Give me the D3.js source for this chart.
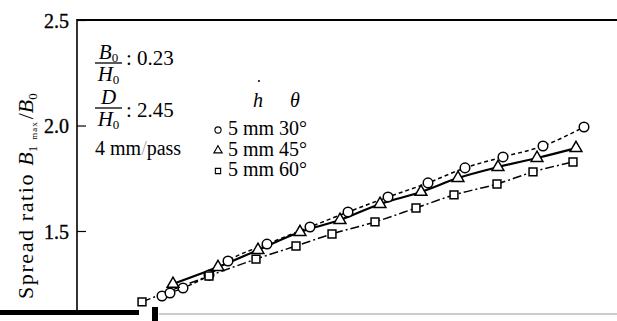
<!DOCTYPE html>
<html>
<head>
<meta charset="utf-8">
<script src="https://cdn.jsdelivr.net/npm/d3@7"></script>
<style>
  body { margin: 0; background: #fff; }
  svg { display: block; font-family: "Liberation Serif", "DejaVu Serif", serif; }
</style>
</head>
<body>
<svg id="chart" width="617" height="321"></svg>
<script>
// reduction (mm) and spread ratio for each series
const circleX = [8.5, 9.3, 10.6, 13.2, 15.1, 19.0, 23.3, 27.1, 31.1, 35.1, 38.8, 42.6, 46.6, 50.7];
const circleY = [1.192, 1.206, 1.230, 1.291, 1.358, 1.438, 1.519, 1.590, 1.661, 1.728, 1.799, 1.851, 1.903, 1.993];

const triangleX = [9.6, 14.1, 18.1, 22.3, 26.3, 30.3, 34.4, 38.1, 42.1, 46.0, 49.9];
const triangleY = [1.249, 1.329, 1.410, 1.495, 1.552, 1.628, 1.685, 1.751, 1.803, 1.846, 1.893];

const squareX = [6.5, 13.2, 17.9, 21.9, 25.5, 29.8, 33.9, 37.7, 42.0, 45.6, 49.6];
const squareY = [1.164, 1.287, 1.367, 1.429, 1.486, 1.543, 1.609, 1.671, 1.723, 1.780, 1.827];

const yTicks = [1.5, 2.0, 2.5];
const legendRows = ['5 mm 30°', '5 mm 45°', '5 mm 60°'];

let svg = d3.select('#chart');

const plotLeft = 77, plotTop = 20, plotBottom = 313, plotRight = 617;
const serif = '"Liberation Serif", "DejaVu Serif", serif';

let x = d3.scaleLinear().domain([0, 54]).range([plotLeft, plotRight]);
let y = d3.scaleLinear().domain([1.5, 2.5]).range([231, plotTop]);

svg.append('defs').append('clipPath')
  .attr('id', 'plot')
  .append('rect')
  .attr('x', plotLeft).attr('y', plotTop)
  .attr('width', plotRight - plotLeft).attr('height', plotBottom - plotTop);

// frame: top line and left axis
svg.append('line')
  .attr('x1', plotLeft).attr('x2', plotRight)
  .attr('y1', plotTop).attr('y2', plotTop)
  .attr('stroke', '#000').attr('stroke-width', 2);

let yAxis = d3.axisRight(y)
  .tickValues(yTicks)
  .tickSize(9)
  .tickFormat(d3.format('.1f'));

let ya = svg.append('g')
  .attr('transform', `translate(${plotLeft},0)`)
  .call(yAxis)
  .attr('font-family', serif)
  .attr('font-size', 20);
ya.select('.domain').remove();
ya.selectAll('.tick line').attr('stroke', '#000').attr('stroke-width', 1.2);
ya.selectAll('.tick text')
  .attr('x', -8)
  .attr('dy', '0.35em')
  .attr('text-anchor', 'end')
  .attr('fill', '#000')
  .attr('stroke', '#000')
  .attr('stroke-width', 0.35);

svg.append('line')
  .attr('x1', plotLeft).attr('x2', plotLeft)
  .attr('y1', plotTop - 1).attr('y2', plotBottom)
  .attr('stroke', '#000').attr('stroke-width', 1.6);

// bottom edge of the scan
svg.append('rect')
  .attr('x', 0).attr('y', 310)
  .attr('width', 139).attr('height', 5)
  .attr('fill', '#000');
svg.append('rect')
  .attr('x', 152).attr('y', 307)
  .attr('width', 6).attr('height', 14)
  .attr('fill', '#000');
svg.append('line')
  .attr('x1', 159).attr('x2', plotRight)
  .attr('y1', 314).attr('y2', 314)
  .attr('stroke', '#bbb').attr('stroke-width', 1.5);

// y label
let ylab = svg.append('text')
  .attr('transform', 'translate(33,299) rotate(-90)')
  .style('font-size', '22px')
  .attr('fill', '#000');
ylab.append('tspan').style('letter-spacing', '1.6px').text('Spread ratio ');
ylab.append('tspan').style('font-style', 'italic').text('B');
ylab.append('tspan').attr('dy', 4).style('font-size', '13px').text('1');
ylab.append('tspan').attr('dx', 6).style('font-size', '9px').style('letter-spacing', '1px').text('max');
ylab.append('tspan').attr('dx', 2).attr('dy', -4).text('/');
ylab.append('tspan').style('font-style', 'italic').text('B');
ylab.append('tspan').attr('dy', 4).style('font-size', '13px').text('0');

// series
let series = [
  { xs: circleX, ys: circleY, dash: '4,3', width: 1.5, shape: 'circle' },
  { xs: triangleX, ys: triangleY, dash: null, width: 2.2, shape: 'triangle' },
  { xs: squareX, ys: squareY, dash: '9,3,2,3', width: 1.5, shape: 'square' }
];

let line = d3.line()
  .x(d => x(d[0]))
  .y(d => y(d[1]))
  .curve(d3.curveMonotoneX);

let plot = svg.append('g').attr('clip-path', 'url(#plot)');

for (let s of series) {
  let pts = s.xs.map((v, i) => [v, s.ys[i]]);
  plot.append('path')
    .attr('d', line(pts))
    .attr('fill', 'none')
    .attr('stroke', '#000')
    .attr('stroke-width', s.width)
    .attr('stroke-dasharray', s.dash);
}

let symbols = {
  circle: d3.symbol().type(d3.symbolCircle).size(72),
  triangle: d3.symbol().type(d3.symbolTriangle).size(60),
  square: d3.symbol().type(d3.symbolSquare).size(62)
};

for (let s of series) {
  let pts = s.xs.map((v, i) => [v, s.ys[i]]);
  plot.selectAll(null)
    .data(pts)
    .enter()
    .append('path')
    .attr('d', symbols[s.shape])
    .attr('transform', d => `translate(${x(d[0])},${y(d[1])})`)
    .attr('fill', '#fff')
    .attr('stroke', '#000')
    .attr('stroke-width', 1.5);
}

// parameter text
function fraction(g, num, den, x0, barY, w) {
  let n = g.append('text').attr('x', x0 + w / 2).attr('y', barY - 4)
    .attr('text-anchor', 'middle').style('font-size', '21px');
  n.append('tspan').style('font-style', 'italic').text(num[0]);
  if (num[1]) n.append('tspan').attr('dy', 3).style('font-size', '13px').text(num[1]);
  g.append('line')
    .attr('x1', x0).attr('x2', x0 + w)
    .attr('y1', barY).attr('y2', barY)
    .attr('stroke', '#000').attr('stroke-width', 1.3);
  let d = g.append('text').attr('x', x0 + w / 2).attr('y', barY + 18)
    .attr('text-anchor', 'middle').style('font-size', '21px');
  d.append('tspan').style('font-style', 'italic').text(den[0]);
  if (den[1]) d.append('tspan').attr('dy', 3).style('font-size', '13px').text(den[1]);
}

let notes = svg.append('g').attr('fill', '#000');
fraction(notes, ['B', '0'], ['H', '0'], 95, 63, 27);
notes.append('text').attr('x', 126).attr('y', 65).style('font-size', '21px').text(': 0.23');
fraction(notes, ['D', ''], ['H', '0'], 95, 108, 27);
notes.append('text').attr('x', 126).attr('y', 117).style('font-size', '21px').text(': 2.45');
let pass = notes.append('text').attr('x', 95).attr('y', 155).style('font-size', '20px');
pass.append('tspan').text('4 mm');
pass.append('tspan').attr('fill', '#aaa').text('/');
pass.append('tspan').text('pass');

// legend
let legend = svg.append('g').attr('fill', '#000');
legend.append('circle').attr('cx', 259).attr('cy', 81).attr('r', 1);
legend.append('text').attr('x', 253).attr('y', 107)
  .style('font-size', '20px').style('font-style', 'italic').text('h');
legend.append('text').attr('x', 290).attr('y', 107)
  .style('font-size', '20px').style('font-style', 'italic').text('θ');

let legendShapes = ['circle', 'triangle', 'square'];
let legendSymbols = {
  circle: d3.symbol().type(d3.symbolCircle).size(30),
  triangle: d3.symbol().type(d3.symbolTriangle).size(30),
  square: d3.symbol().type(d3.symbolSquare).size(28)
};

let row = legend.selectAll('g.row')
  .data(legendRows)
  .enter()
  .append('g')
  .attr('class', 'row')
  .attr('transform', (d, i) => `translate(0, ${135 + i * 20.5})`);

row.append('path')
  .attr('d', (d, i) => legendSymbols[legendShapes[i]]())
  .attr('transform', 'translate(218,-5)')
  .attr('fill', '#fff')
  .attr('stroke', '#000')
  .attr('stroke-width', 1.1);

row.append('text')
  .attr('x', 228)
  .style('font-size', '20px')
  .text(d => d);
</script>
</body>
</html>
